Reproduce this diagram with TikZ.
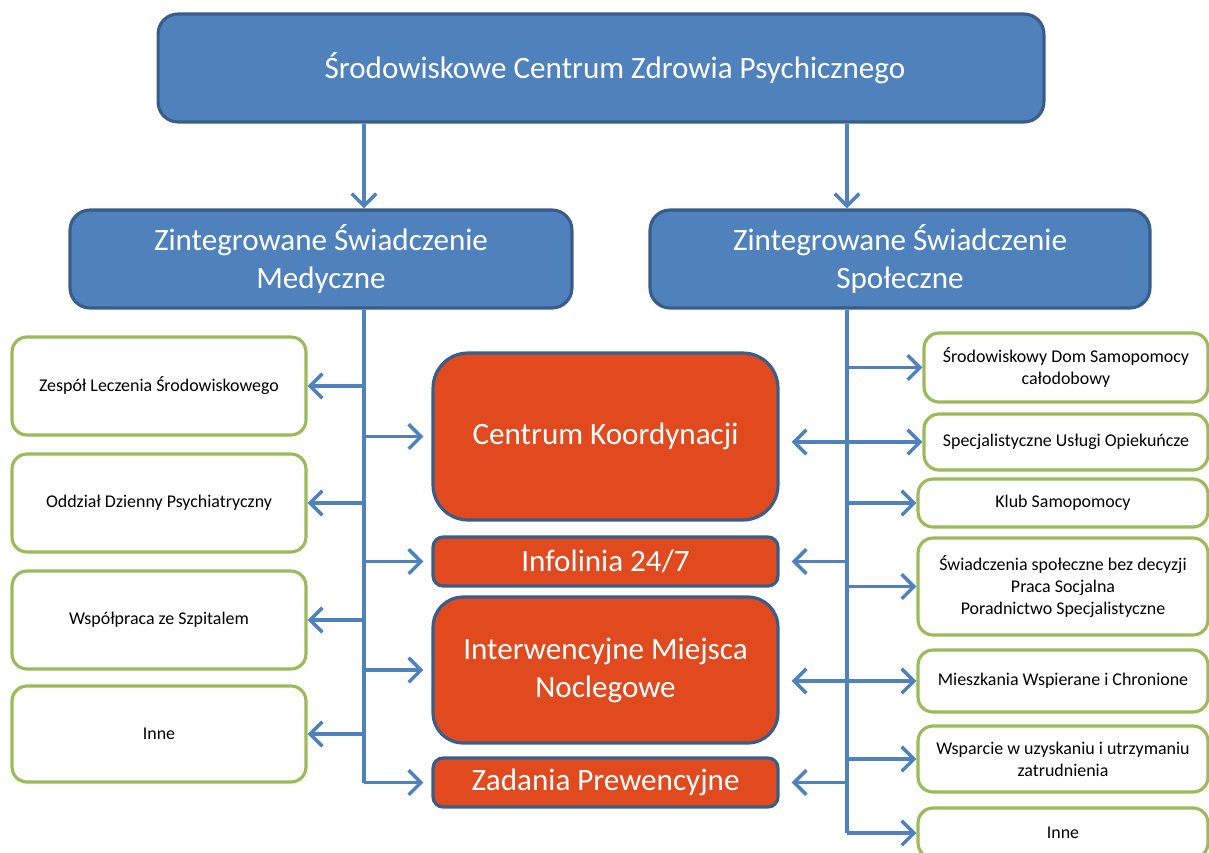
\documentclass[tikz,border=0pt]{standalone}
\usepackage{fontspec}
\setmainfont{Carlito}
\usepackage{tikz}
\usetikzlibrary{arrows.meta,positioning}
\definecolor{sczblue}{HTML}{4F81BD}
\definecolor{sczedge}{HTML}{385D8A}
\definecolor{sczred}{RGB}{224,74,30}
\definecolor{sczgreen}{HTML}{9BBB59}

\tikzset{
  mainbox/.style={draw=sczedge, fill=sczblue, line width=1.8pt, rounded corners=0.4cm,
    text=white, align=center, inner sep=0pt, font=\fontsize{17.7}{21.6}\selectfont},
  corebox/.style={draw=sczedge, fill=sczred, line width=1.8pt,
    text=white, align=center, inner sep=0pt, minimum width=6.9cm, font=\fontsize{17.7}{21.6}\selectfont},
  leafbox/.style={draw=sczgreen, fill=white, line width=1.8pt, rounded corners=0.3cm,
    align=center, inner sep=0pt, font=\fontsize{10.2}{12.7}\selectfont},
  arr/.style={draw=sczblue, line width=2pt, -{Straight Barb[length=7pt,width=14pt]}},
  arrboth/.style={draw=sczblue, line width=2pt, {Straight Barb[length=7pt,width=14pt]}-{Straight Barb[length=7pt,width=14pt]}}
}

\begin{document}
\begin{tikzpicture}[x=0.02cm, y=-0.02cm]
\useasboundingbox (0,0) rectangle (1209,852);

% Top level
\node[mainbox, minimum width=17.72cm, minimum height=2.16cm] (sczp) at (601,68)
  {\hspace*{0.56cm}Środowiskowe Centrum Zdrowia Psychicznego};

% Second level
\node[mainbox, minimum width=10.04cm, minimum height=1.96cm] (med) at (321,259)
  {Zintegrowane Świadczenie\\Medyczne};
\node[mainbox, minimum width=10cm, minimum height=1.96cm] (spol) at (900,259)
  {Zintegrowane Świadczenie\\Społeczne};

% Trunk positions
\coordinate (tl) at (364,0);
\coordinate (tr) at (847,0);

% Core units
\node[corebox, rounded corners=0.7cm, minimum height=3.34cm] (koord) at (605.5,436.5) {Centrum Koordynacji};
\node[corebox, rounded corners=0.2cm, minimum height=0.98cm] (info) at (605.5,561.5) {Infolinia 24/7};
\node[corebox, rounded corners=0.6cm, minimum height=2.92cm] (noc) at (605.5,670) {Interwencyjne Miejsca\\Noclegowe};
\node[corebox, rounded corners=0.2cm, minimum height=0.98cm] (prew) at (605.5,782.5) {Zadania Prewencyjne};

% Medical leaves
\node[leafbox, minimum width=5.88cm, minimum height=1.96cm] (zls) at (159,386) {Zespół Leczenia Środowiskowego};
\node[leafbox, minimum width=5.88cm, minimum height=1.96cm] (odp) at (159,503) {Oddział Dzienny Psychiatryczny};
\node[leafbox, minimum width=5.88cm, minimum height=1.96cm] (szp) at (159,620) {Współpraca ze Szpitalem};
\node[leafbox, minimum width=5.88cm, minimum height=1.92cm] (innem) at (159,734) {Inne};

% Social leaves
\node[leafbox, minimum width=5.68cm, minimum height=1.38cm] (sds) at (1066,367.5) {Środowiskowy Dom Samopomocy\\całodobowy};
\node[leafbox, minimum width=5.68cm, minimum height=1.12cm] (suo) at (1066,442) {Specjalistyczne Usługi Opiekuńcze};
\node[leafbox, minimum width=5.8cm, minimum height=0.96cm] (klub) at (1063,503) {Klub Samopomocy};
\node[leafbox, minimum width=5.8cm, minimum height=1.94cm] (swi) at (1063,586.5) {Świadczenia społeczne bez decyzji\\Praca Socjalna\\Poradnictwo Specjalistyczne};
\node[leafbox, minimum width=5.8cm, minimum height=1.24cm] (mie) at (1063,681) {Mieszkania Wspierane i Chronione};
\node[leafbox, minimum width=5.8cm, minimum height=1.32cm] (zat) at (1063,759) {Wsparcie w uzyskaniu i utrzymaniu\\zatrudnienia};
\node[leafbox, minimum width=5.8cm, minimum height=1cm] (innes) at (1063,833) {Inne};

% Top connectors
\draw[arr] (sczp.south -| tl) -- (med.north -| tl);
\draw[arr] (sczp.south -| tr) -- (spol.north -| tr);

% Medical trunk
\draw[sczblue, line width=2pt] (med.south -| tl) -- (prew.west -| tl);
\foreach \leaf in {zls, odp, szp, innem}
  \draw[arr] (\leaf.east -| tl) -- (\leaf.east);
\foreach \core in {koord, info, noc, prew}
  \draw[arr, shorten >=0.16cm] (\core.west -| tl) -- (\core.west);

% Social trunk
\draw[sczblue, line width=2pt] (spol.south -| tr) -- (innes.west -| tr);
\foreach \leaf in {sds, klub, swi, zat, innes}
  \draw[arr] (\leaf.west -| tr) -- (\leaf.west);
\draw[arrboth, shorten <=0.24cm] (koord.east |- suo.west) -- (suo.west);
\draw[arrboth, shorten <=0.24cm] (noc.east |- mie.west) -- (mie.west);
\draw[arr, shorten >=0.24cm] (info.east -| tr) -- (info.east);
\draw[arr, shorten >=0.24cm] (prew.east -| tr) -- (prew.east);

\end{tikzpicture}
\end{document}
